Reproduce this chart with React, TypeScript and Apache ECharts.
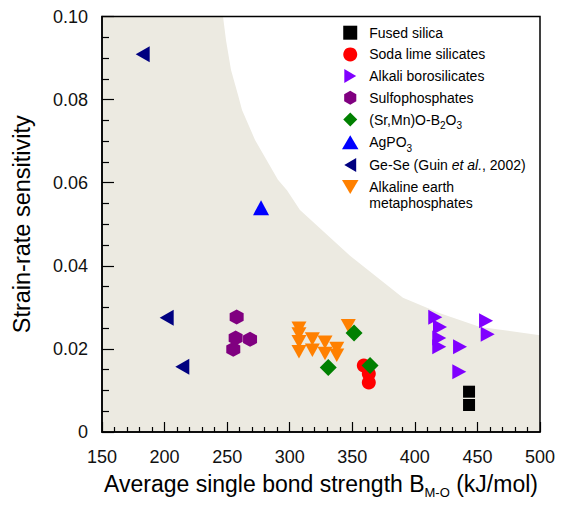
import React, { useEffect, useRef } from 'react';
import * as echarts from 'echarts';

// Boundary of the shaded (beige) region: [B_M-O, m]
const boundaryCurve: number[][] = [
  [150, 0.1], [246.7, 0.1], [249.1, 0.0943], [253.1, 0.0871], [258.7, 0.0811],
  [261.9, 0.0775], [272.3, 0.0703], [290.6, 0.0607], [297.8, 0.0582],
  [308.2, 0.0534], [348.2, 0.0424], [390.5, 0.0323], [420.1, 0.0286],
  [452.1, 0.0253], [500, 0.0233],
];

const fusedSilica: number[][] = [[443.3, 0.0097], [443.3, 0.0065]];
const sodaLime: number[][] = [[359.2, 0.016], [363.2, 0.014], [363.2, 0.0119]];
const alkaliBorosilicates: number[][] = [
  [416.3, 0.0276], [420.1, 0.0253], [419.5, 0.0226], [419.5, 0.0205],
  [436.1, 0.0205], [435.5, 0.0145], [456.9, 0.0268], [458.2, 0.0235],
];
const sulfophosphates: number[][] = [[257.6, 0.0277], [256.8, 0.0226], [268.3, 0.0223], [254.9, 0.0199]];
const srMnBorates: number[][] = [[351.4, 0.0238], [330.8, 0.0155], [364.2, 0.016]];
const agPO3: number[][] = [[277.1, 0.054]];
const geSe: number[][] = [[182.5, 0.0909], [201.7, 0.0275], [214.2, 0.0157]];
const alkalineEarth: number[][] = [
  [307.4, 0.025], [307.4, 0.0236], [307.4, 0.0217], [307.4, 0.0193],
  [318.1, 0.0224], [318.1, 0.0197], [328.2, 0.0216], [328.2, 0.0189],
  [337.6, 0.0201], [337.6, 0.0185], [346.8, 0.0256],
];

const seriesNames = [
  'Fused silica',
  'Soda lime silicates',
  'Alkali borosilicates',
  'Sulfophosphates',
  '(Sr,Mn)O-B2O3',
  'AgPO3',
  'Ge-Se (Guin et al., 2002)',
  'Alkaline earth metaphosphates',
];

const legendLabels: Record<string, string> = {
  '(Sr,Mn)O-B2O3': '(Sr,Mn)O-B{sub|2}O{sub|3}',
  'AgPO3': 'AgPO{sub|3}',
  'Ge-Se (Guin et al., 2002)': 'Ge-Se (Guin {it|et al.}, 2002)',
  'Alkaline earth metaphosphates': 'Alkaline earth\n{l2|metaphosphates}',
};

const TRI_UP = 'path://M10,0 L20,17 L0,17 Z';
const TRI_DOWN = 'path://M0,0 L20,0 L10,17 Z';
const TRI_LEFT = 'path://M0,10 L17,0 L17,20 Z';
const TRI_RIGHT = 'path://M0,0 L17,10 L0,20 Z';
const HEX = 'path://M8.66,0 L17.32,5 L17.32,15 L8.66,20 L0,15 L0,5 Z';
const DIAMOND = 'path://M10,0 L20,10 L10,20 L0,10 Z';
const SQUARE = 'path://M0,0 L10,0 L10,10 L0,10 Z';

const FONT = "'Liberation Sans', Arial, Helvetica, sans-serif";

export default function App() {
  const ref = useRef<HTMLDivElement>(null);

  useEffect(() => {
    if (!ref.current) return;
    const chart = echarts.init(ref.current, null, { renderer: 'svg' });

    const scatter = (name: string, data: number[][], symbol: string, size: any, color: string) => ({
      name,
      type: 'scatter',
      data,
      symbol,
      symbolSize: size,
      itemStyle: { color, opacity: 1 },
      z: 5,
      silent: true,
    });

    const option: any = {
      animation: false,
      backgroundColor: '#ffffff',
      textStyle: { fontFamily: FONT },
      grid: {
        left: 102, right: 25, top: 16.5, bottom: 75,
        show: true, borderColor: '#000', borderWidth: 1.5,
        backgroundColor: 'transparent', z: 3,
      },
      legend: {
        orient: 'vertical',
        left: 342,
        top: 22.7,
        padding: 0,
        itemWidth: 28,
        itemHeight: 14,
        itemGap: 1.7,
        selectedMode: false,
        data: [
          { name: seriesNames[0], icon: SQUARE },
          { name: seriesNames[1], icon: 'circle' },
          { name: seriesNames[2], icon: TRI_RIGHT },
          { name: seriesNames[3], icon: HEX },
          { name: seriesNames[4], icon: DIAMOND },
          { name: seriesNames[5], icon: TRI_UP },
          { name: seriesNames[6], icon: TRI_LEFT },
          { name: seriesNames[7], icon: TRI_DOWN },
        ],
        formatter: (name: string) => legendLabels[name] || name,
        textStyle: {
          fontFamily: FONT,
          fontSize: 14,
          lineHeight: 20,
          color: '#000',
          rich: {
            sub: { fontFamily: FONT, fontSize: 10, color: '#000', padding: [12, 0, 0, 0] },
            it: { fontFamily: FONT, fontSize: 14, fontStyle: 'italic', color: '#000' },
            l2: { fontFamily: FONT, fontSize: 14, lineHeight: 1, color: '#000', padding: [12, 0, 0, 0] },
          },
        },
      },
      xAxis: {
        type: 'value',
        min: 150,
        max: 500,
        interval: 50,
        z: 4,
        name: 'Average single bond strength B{sub|M-O} (kJ/mol)',
        nameLocation: 'middle',
        nameGap: 38,
        nameTextStyle: {
          fontFamily: FONT,
          fontSize: 23,
          lineHeight: 26,
          color: '#000',
          rich: {
            sub: { fontFamily: FONT, fontSize: 13, color: '#000', padding: [18, 0, 0, 0] },
          },
        },
        axisLine: { show: true, onZero: false, lineStyle: { color: '#000', width: 1.5 } },
        axisTick: { show: true, inside: true, length: 10, lineStyle: { color: '#000', width: 1.2 } },
        minorTick: { show: true, splitNumber: 5, length: 5, lineStyle: { color: '#000', width: 1.2 } },
        splitLine: { show: false },
        axisLabel: { fontFamily: FONT, fontSize: 18, color: '#111', margin: 16 },
      },
      yAxis: {
        type: 'value',
        min: 0,
        max: 0.1,
        interval: 0.02,
        z: 4,
        name: 'Strain-rate sensitivity',
        nameLocation: 'middle',
        nameRotate: 90,
        nameGap: 68,
        nameTextStyle: { fontFamily: FONT, fontSize: 23.5, color: '#000' },
        axisLine: { show: true, onZero: false, lineStyle: { color: '#000', width: 1.5 } },
        axisTick: { show: true, inside: true, length: 12, lineStyle: { color: '#000', width: 1.2 } },
        minorTick: { show: true, splitNumber: 4, length: 7, lineStyle: { color: '#000', width: 1.2 } },
        splitLine: { show: false },
        axisLabel: {
          fontFamily: FONT, fontSize: 18, color: '#111', margin: 14,
          formatter: (v: number) => (v === 0 ? '0' : v.toFixed(2)),
        },
      },
      series: [
        {
          name: 'region',
          type: 'line',
          data: boundaryCurve,
          smooth: false,
          symbol: 'none',
          lineStyle: { width: 0, opacity: 0 },
          areaStyle: { color: '#ECEAE1', opacity: 1 },
          silent: true,
          z: 1,
        },
        scatter(seriesNames[0], fusedSilica, 'rect', 12, '#000000'),
        scatter(seriesNames[1], sodaLime, 'circle', 14, '#FF0000'),
        scatter(seriesNames[2], alkaliBorosilicates, TRI_RIGHT, [14, 15], '#8000FF'),
        scatter(seriesNames[3], sulfophosphates, HEX, [14, 15], '#800080'),
        scatter(seriesNames[7], alkalineEarth, TRI_DOWN, [15, 13.5], '#FF8000'),
        scatter(seriesNames[5], agPO3, TRI_UP, [16, 15], '#0000FF'),
        scatter(seriesNames[6], geSe, TRI_LEFT, [14, 16], '#000080'),
        scatter(seriesNames[4], srMnBorates, 'diamond', 17, '#008000'),
      ],
    };

    chart.setOption(option);
    return () => chart.dispose();
  }, []);

  return (
    <div
      ref={ref}
      style={{ position: 'absolute', left: 0, top: 0, width: 565, height: 507, background: '#fff' }}
    />
  );
}
